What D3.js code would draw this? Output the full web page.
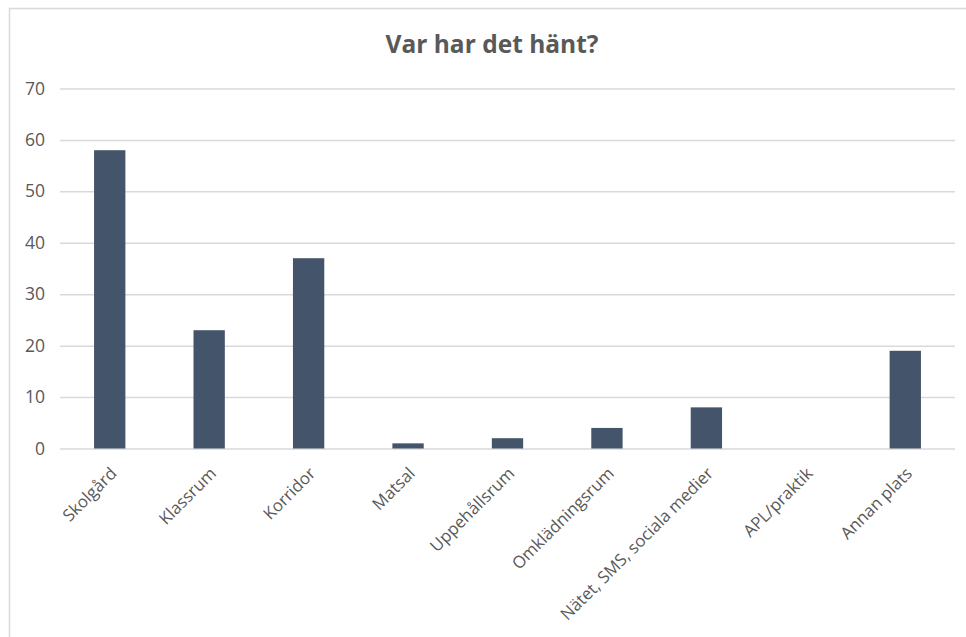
<!DOCTYPE html>
<html>
<head>
<meta charset="utf-8">
<script src="https://cdn.jsdelivr.net/npm/d3@7"></script>
<style>
  body { margin: 0; background: #fff; }
  svg text { font-family: "Open Sans", sans-serif; }
  .tick text { fill: #595959; }
</style>
</head>
<body>
<div id="chart"></div>
<script>
// data
let categories = ["Skolgård", "Klassrum", "Korridor", "Matsal", "Uppehållsrum",
    "Omklädningsrum", "Nätet, SMS, sociala medier", "APL/praktik", "Annan plats"]
let counts = [58, 23, 37, 1, 2, 4, 8, 0, 19]
let yTicks = [0, 10, 20, 30, 40, 50, 60, 70]
let title = "Var har det hänt?"

let width = 966, height = 637
let margin = {top: 88.5, right: 11, bottom: 188.5, left: 60}

let svg = d3.select("#chart").append("svg")
    .attr("width", width)
    .attr("height", height)

// chart frame
svg.append("rect")
    .attr("x", 9.5).attr("y", 8.5)
    .attr("width", width + 20).attr("height", height + 20)
    .attr("fill", "none")
    .attr("stroke", "#d9d9d9")
    .attr("stroke-width", 1.5)

let x = d3.scaleBand()
    .domain(categories)
    .range([margin.left, width - margin.right])
    .paddingInner(0.685)
    .paddingOuter(0.3425)

let y = d3.scaleLinear()
    .domain([0, 70])
    .range([height - margin.bottom, margin.top])

// gridlines + y labels
let yAxis = svg.append("g")
    .attr("transform", "translate(" + margin.left + ",0)")
    .call(d3.axisLeft(y).tickValues(yTicks).tickSize(-(width - margin.left - margin.right)).tickPadding(15))
yAxis.select(".domain").remove()
yAxis.selectAll(".tick line").attr("stroke", "#d9d9d9").attr("stroke-width", 1.5)
yAxis.selectAll(".tick text").attr("font-size", "17.5px")

svg.append("g").selectAll("rect")
    .data(counts)
    .enter()
    .append("rect")
    .attr("x", (d, i) => x(categories[i]))
    .attr("y", (d) => y(d))
    .attr("width", x.bandwidth())
    .attr("height", (d) => y(0) - y(d))
    .attr("fill", "#44546a")

// x labels, rotated
let xAxis = svg.append("g")
    .attr("transform", "translate(0," + y(0) + ")")
    .call(d3.axisBottom(x).tickSize(0))
xAxis.select(".domain").remove()
xAxis.selectAll(".tick text")
    .attr("font-size", "16.8px")
    .attr("text-anchor", "end")
    .attr("dy", null)
    .attr("y", 0)
    .attr("transform", "translate(8,26) rotate(-45)")

svg.append("text")
    .attr("x", 492)
    .attr("y", 53)
    .attr("text-anchor", "middle")
    .attr("font-size", "24.5px")
    .attr("font-weight", "bold")
    .attr("fill", "#595959")
    .text(title)
</script>
</body>
</html>
